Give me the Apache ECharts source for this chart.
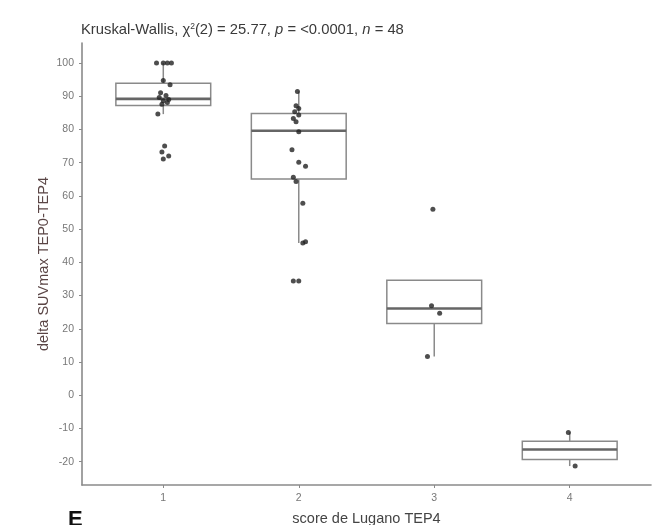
<!DOCTYPE html>
<html><head><meta charset="utf-8">
<script src="https://cdn.jsdelivr.net/npm/echarts@6/dist/echarts.min.js"></script>
<style>html,body{margin:0;padding:0;background:#fff}#c{width:658px;height:525px}</style>
</head><body><div id="c"></div>
<script>
// categories (x tick labels)
const categories = ['1', '2', '3', '4'];
// y tick values
const yTicks = [-20, -10, 0, 10, 20, 30, 40, 50, 60, 70, 80, 90, 100];
// box statistics per group: [lower whisker, Q1, median, Q3, upper whisker]
const boxStats = [
  [84.6, 87.2, 89.2, 93.9, 100],
  [45.8, 65.1, 79.6, 84.8, 91.4],
  [11.7, 21.6, 26.1, 34.6, 34.6],
  [-21.3, -19.3, -16.3, -13.8, -11.2]
];
// jittered points: x position (group + jitter), y value
const pointsX = [
  0.95, 1.0, 1.03, 1.06, 1.0, 1.05,
  0.98, 1.02, 0.97, 1.04, 1.0, 1.03, 0.99,
  0.96, 1.01, 0.99, 1.0, 1.04,
  1.99, 1.98, 2.0, 1.97, 2.0, 1.96, 1.98, 2.0, 1.95, 2.0, 2.05, 1.96, 1.98, 2.03, 2.03, 2.05, 1.96, 2.0,
  2.99, 2.98, 3.04, 2.95,
  3.99, 4.04
];
const pointsY = [
  100, 100, 100, 100, 94.7, 93.4,
  91, 90.2, 89.6, 89, 88.6, 88.1, 87.6,
  84.6, 75, 73.2, 71.1, 72,
  91.4, 87.1, 86.3, 85.3, 84.3, 83.3, 82.3, 79.3, 73.9, 70.1, 68.9, 65.6, 64.3, 57.8, 45.8, 46.2, 34.4, 34.4,
  56, 26.9, 24.7, 11.7,
  -11.2, -21.3
];

const boxData = boxStats.map((s, i) => [i + 1].concat(s));
const scatterData = pointsX.map((x, i) => [x, pointsY[i]]);

const chart = echarts.init(document.getElementById('c'));
const lineCol = '#8a8a8a';
const ff = 'Liberation Sans';
chart.setOption({
  animation: false,
  title: {
    left: 76, top: 17,
    text: '{a|Kruskal-Wallis, χ}{s|2}{a|(2) = 25.77, }{i|p}{a| = <0.0001, }{i|n}{a| = 48}',
    textStyle: {
      fontWeight: 'normal',
      rich: {
        a: {fontFamily: ff, fontSize: 14.8, color: '#3a3a3a', fontWeight: 'normal'},
        i: {fontFamily: ff, fontSize: 14.8, color: '#3a3a3a', fontStyle: 'italic', fontWeight: 'normal'},
        s: {fontFamily: ff, fontSize: 8.5, color: '#3a3a3a', fontWeight: 'normal', verticalAlign: 'top', padding: [0,0,7,0]}
      }
    }
  },
  grid: {left: 82, right: 7, top: 43, bottom: 40, outerBoundsMode: 'none', containLabel: false},
  xAxis: {
    type: 'value', min: 0.4, max: 4.6, interval: 1,
    name: 'score de Lugano TEP4', nameLocation: 'middle', nameGap: 26,
    nameTextStyle: {fontFamily: ff, fontSize: 14.5, color: '#444'},
    axisLine: {show: true, onZero: false, lineStyle: {color: lineCol, width: 1.6}},
    axisTick: {show: true, length: 3, lineStyle: {color: lineCol}, customValues: [1,2,3,4]},
    axisLabel: {fontFamily: ff, fontSize: 10.5, color: '#777', margin: 8,
      customValues: [1,2,3,4], formatter: v => categories[Math.round(v) - 1] || ''},
    splitLine: {show: false}
  },
  yAxis: {
    type: 'value', min: -27, max: 106,
    name: 'delta SUVmax TEP0-TEP4', nameLocation: 'middle', nameGap: 31, nameMoveOverlap: false,
    nameTextStyle: {fontFamily: ff, fontSize: 14.5, color: '#5a4545'},
    axisLine: {show: true, onZero: false, lineStyle: {color: lineCol, width: 1.6}},
    axisTick: {show: true, length: 3, lineStyle: {color: lineCol}, customValues: yTicks},
    axisLabel: {fontFamily: ff, fontSize: 10.5, color: '#777', margin: 8, customValues: yTicks},
    splitLine: {show: false}
  },
  series: [
    {
      type: 'custom',
      data: boxData,
      renderItem: function (params, api) {
        const x = api.value(0);
        const hw = 0.35;
        const left = api.coord([x - hw, 0])[0];
        const right = api.coord([x + hw, 0])[0];
        const cx = api.coord([x, 0])[0];
        const yLo = api.coord([x, api.value(1)])[1];
        const yQ1 = api.coord([x, api.value(2)])[1];
        const yMed = api.coord([x, api.value(3)])[1];
        const yQ3 = api.coord([x, api.value(4)])[1];
        const yHi = api.coord([x, api.value(5)])[1];
        const st = {stroke: lineCol, lineWidth: 1.5, fill: null};
        return {
          type: 'group',
          children: [
            {type: 'line', shape: {x1: cx, y1: yQ3, x2: cx, y2: yHi}, style: st},
            {type: 'line', shape: {x1: cx, y1: yQ1, x2: cx, y2: yLo}, style: st},
            {type: 'rect', shape: {x: left, y: yQ3, width: right - left, height: yQ1 - yQ3}, style: {stroke: lineCol, lineWidth: 1.5, fill: '#fff'}},
            {type: 'line', shape: {x1: left, y1: yMed, x2: right, y2: yMed}, style: {stroke: '#666', lineWidth: 2.6}}
          ]
        };
      },
      z: 2
    },
    {
      type: 'scatter', data: scatterData, symbolSize: 5,
      itemStyle: {color: '#222'}, z: 3
    }
  ],
  graphic: [
    {type: 'text', left: 68, top: 509, style: {text: 'E', font: 'bold 22px Liberation Sans', fill: '#111'}}
  ]
});
</script>
</body></html>
